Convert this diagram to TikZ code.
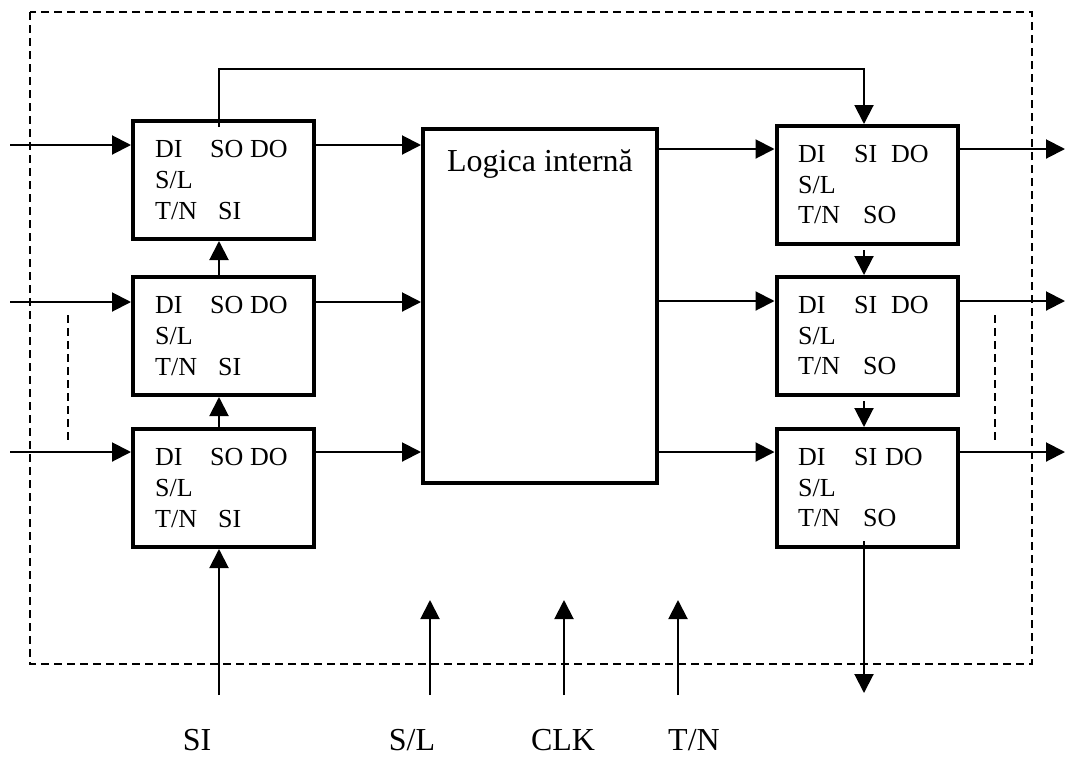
\documentclass[tikz,border=0pt]{standalone}
\usepackage{fontspec}
\setmainfont{Liberation Serif}
\usetikzlibrary{arrows.meta}
\begin{document}
\begin{tikzpicture}[x=1pt,y=-1pt,
 box/.style={draw,line width=4pt,minimum width=181pt,minimum height=118pt,inner sep=0pt},
 conn/.style={line width=2pt},
 arr/.style={conn,-{Triangle[length=19pt,width=19pt]}},
 lbl/.style={anchor=base west,inner sep=0pt,font=\fontsize{26}{30}\selectfont},
 big/.style={anchor=base,inner sep=0pt,font=\fontsize{32}{38}\selectfont},
 dsh/.style={line width=2pt,dash pattern=on 8pt off 5pt}]
\useasboundingbox (0,0) rectangle (1066,756);
% frame
\draw[dsh] (30,12) rectangle (1032,664);
\draw[dsh] (68,315) -- (68,444);
\draw[dsh] (995,315) -- (995,444);
% boxes
\node[box] (L1) at (223.5,180) {};
\node[box] (L2) at (223.5,336) {};
\node[box] (L3) at (223.5,488) {};
\node[box] (R1) at (867,185) {};
\node[box] (R2) at (867,336) {};
\node[box] (R3) at (867,488) {};
\node[box,minimum width=234pt,minimum height=354pt] (LI) at (540,306) {};
\node[big] (lit) at (540,171) {Logica internă};
% left box labels
\node[lbl] (l1a) at (155,157) {DI};
\node[lbl] (l1b) at (210,157) {SO};
\node[lbl] (l1c) at (250,157) {DO};
\node[lbl] (l1d) at (155,188) {S/L};
\node[lbl] (l1e) at (155,219) {T/N};
\node[lbl] (l1f) at (218,219) {SI};
\node[lbl] (l2a) at (155,313) {DI};
\node[lbl] (l2b) at (210,313) {SO};
\node[lbl] (l2c) at (250,313) {DO};
\node[lbl] (l2d) at (155,344) {S/L};
\node[lbl] (l2e) at (155,375) {T/N};
\node[lbl] (l2f) at (218,375) {SI};
\node[lbl] (l3a) at (155,465) {DI};
\node[lbl] (l3b) at (210,465) {SO};
\node[lbl] (l3c) at (250,465) {DO};
\node[lbl] (l3d) at (155,496) {S/L};
\node[lbl] (l3e) at (155,527) {T/N};
\node[lbl] (l3f) at (218,527) {SI};
% right box labels
\node[lbl] (r1a) at (798,162) {DI};
\node[lbl] (r1b) at (854,162) {SI};
\node[lbl] (r1c) at (891,162) {DO};
\node[lbl] (r1d) at (798,193) {S/L};
\node[lbl] (r1e) at (798,223) {T/N};
\node[lbl] (r1f) at (863,223) {SO};
\node[lbl] (r2a) at (798,313) {DI};
\node[lbl] (r2b) at (854,313) {SI};
\node[lbl] (r2c) at (891,313) {DO};
\node[lbl] (r2d) at (798,344) {S/L};
\node[lbl] (r2e) at (798,374) {T/N};
\node[lbl] (r2f) at (863,374) {SO};
\node[lbl] (r3a) at (798,465) {DI};
\node[lbl] (r3b) at (854,465) {SI};
\node[lbl] (r3c) at (885,465) {DO};
\node[lbl] (r3d) at (798,496) {S/L};
\node[lbl] (r3e) at (798,526) {T/N};
\node[lbl] (r3f) at (863,526) {SO};
% bottom labels
\node[big] (tSI) at (197,750) {SI};
\node[big] (tSL) at (412,750) {S/L};
\node[big] (tCLK) at (563,750) {CLK};
\node[big] (tTN) at (694,750) {T/N};
% coordinates
\coordinate (lx) at (219,0);
\coordinate (rx) at (864,0);
\coordinate (in1) at (10,145);
\coordinate (in2) at (10,302);
\coordinate (in3) at (10,452);
\coordinate (o1) at (1065,149);
\coordinate (o2) at (1065,301);
\coordinate (o3) at (1065,452);
\coordinate (soTop) at (219,127);
\coordinate (siIn) at (219,695);
\coordinate (slIn) at (430,695);
\coordinate (slEnd) at (430,600);
\coordinate (clkIn) at (564,695);
\coordinate (clkEnd) at (564,600);
\coordinate (tnIn) at (678,695);
\coordinate (tnEnd) at (678,600);
\coordinate (soOutS) at (864,541);
\coordinate (soOut) at (864,693);
% inputs
\draw[arr] (in1) -- (in1 -| L1.west);
\draw[arr] (in2) -- (in2 -| L2.west);
\draw[arr] (in3) -- (in3 -| L3.west);
% to internal logic
\draw[arr] (in1 -| L1.east) -- (in1 -| LI.west);
\draw[arr] (in2 -| L2.east) -- (in2 -| LI.west);
\draw[arr] (in3 -| L3.east) -- (in3 -| LI.west);
% from internal logic
\draw[arr] (o1 -| LI.east) -- (o1 -| R1.west);
\draw[arr] (o2 -| LI.east) -- (o2 -| R2.west);
\draw[arr] (o3 -| LI.east) -- (o3 -| R3.west);
% outputs
\draw[arr] (o1 -| R1.east) -- (o1);
\draw[arr] (o2 -| R2.east) -- (o2);
\draw[arr] (o3 -| R3.east) -- (o3);
% scan chain left
\draw[arr] (siIn) -- (L3.south -| lx);
\draw[arr] (L3.north -| lx) -- (L2.south -| lx);
\draw[arr] (L2.north -| lx) -- (L1.south -| lx);
\draw[arr] (soTop) -- (219,69) -| (R1.north -| rx);
% scan chain right
\draw[arr] ([yshift=-4pt]R1.south -| rx) -- (R2.north -| rx);
\draw[arr] ([yshift=-4pt]R2.south -| rx) -- (R3.north -| rx);
\draw[arr] (soOutS) -- (soOut);
% control inputs
\draw[arr] (slIn) -- (slEnd);
\draw[arr] (clkIn) -- (clkEnd);
\draw[arr] (tnIn) -- (tnEnd);
\end{tikzpicture}
\end{document}
